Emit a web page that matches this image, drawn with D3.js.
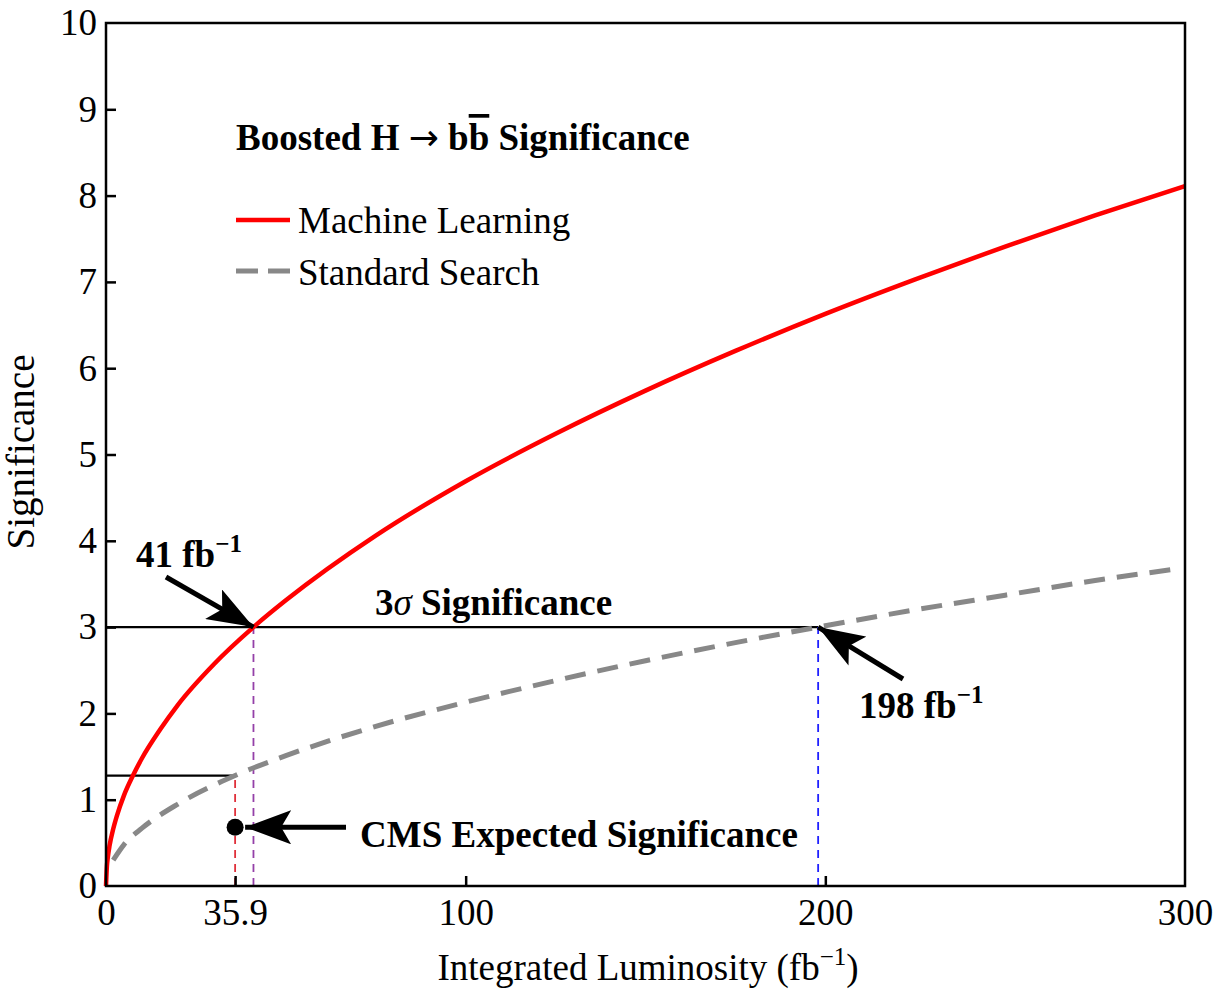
<!DOCTYPE html>
<html><head><meta charset="utf-8">
<script src="https://cdn.jsdelivr.net/npm/d3@7"></script>
<style>
body{margin:0;background:#fff;}
text{font-family:"Liberation Serif","Times New Roman",serif;fill:#000;}
</style></head>
<body>
<svg id="chart" width="1216" height="990"></svg>
<script>
// ---- data ----
const mlLumi   = [0, 0.25, 0.5, 1, 2, 3, 5, 7.5, 10, 15, 20, 30, 41, 50, 75, 100, 125, 150, 175, 200, 225, 250, 275, 300];
const mlSig    = [0, 0.23, 0.33, 0.47, 0.66, 0.81, 1.05, 1.28, 1.48, 1.81, 2.10, 2.57, 3.00, 3.31, 4.06, 4.69, 5.24, 5.74, 6.20, 6.63, 7.03, 7.41, 7.77, 8.11];
const stdLumi  = [2, 5, 10, 20, 35.9, 50, 75, 100, 125, 150, 175, 198, 225, 250, 275, 297];
const stdSig   = [0.30, 0.48, 0.67, 0.95, 1.28, 1.51, 1.85, 2.13, 2.38, 2.61, 2.82, 3.00, 3.20, 3.37, 3.54, 3.67];
const xTicks   = [0, 35.9, 100, 200, 300];
const yTicks   = [0,1,2,3,4,5,6,7,8,9,10];
const mlCross  = [41, 3.0];     // ML reaches 3 sigma
const stdCross = [198, 3.0];    // standard reaches 3 sigma
const cmsLumi  = 35.9;
const cmsStdSig = 1.28;         // standard search at 35.9 fb^-1
const cmsPoint = [35.9, 0.68];  // CMS expected significance

const svg = d3.select("#chart");
const L = 106, R = 1185, T = 23, B = 886;
const x = d3.scaleLinear().domain([0,300]).range([L,R]);
const y = d3.scaleLinear().domain([0,10]).range([B,T]);
const FS = 37, SUP = 25;

// defs: arrowhead
svg.append("defs").append("marker")
  .attr("id","ah").attr("viewBox","0 0 46 34").attr("refX",46).attr("refY",17)
  .attr("markerWidth",46).attr("markerHeight",34).attr("markerUnits","userSpaceOnUse")
  .attr("orient","auto")
  .append("path").attr("d","M0,0 L46,17 L0,34 L10,17 Z").attr("fill","#000");

// reference lines
svg.append("line").attr("x1",x(0)).attr("x2",x(stdCross[0])).attr("y1",y(3)).attr("y2",y(3))
  .attr("stroke","#000").attr("stroke-width",2.2);
svg.append("line").attr("x1",x(0)).attr("x2",x(cmsLumi)).attr("y1",y(cmsStdSig)).attr("y2",y(cmsStdSig))
  .attr("stroke","#000").attr("stroke-width",2.2);
svg.append("line").attr("x1",x(cmsLumi)).attr("x2",x(cmsLumi)).attr("y1",y(0)).attr("y2",y(cmsStdSig))
  .attr("stroke","#e0303a").attr("stroke-width",1.8).attr("stroke-dasharray","8,6");
svg.append("line").attr("x1",x(mlCross[0])).attr("x2",x(mlCross[0])).attr("y1",y(0)).attr("y2",y(mlCross[1]))
  .attr("stroke","#9440a8").attr("stroke-width",1.8).attr("stroke-dasharray","8,6");
svg.append("line").attr("x1",x(stdCross[0])).attr("x2",x(stdCross[0])).attr("y1",y(0)).attr("y2",y(stdCross[1]))
  .attr("stroke","#2020ff").attr("stroke-width",1.8).attr("stroke-dasharray","8,6");

// curves
const line = d3.line().x(d=>x(d[0])).y(d=>y(d[1])).curve(d3.curveMonotoneX);
svg.append("path").datum(stdLumi.map((v,i)=>[v,stdSig[i]])).attr("d",line)
  .attr("fill","none").attr("stroke","#888").attr("stroke-width",5).attr("stroke-dasharray","21,12");
svg.append("path").datum(mlLumi.map((v,i)=>[v,mlSig[i]])).attr("d",line)
  .attr("fill","none").attr("stroke","#ff0000").attr("stroke-width",4.5);

// CMS point
svg.append("circle").attr("cx",x(cmsPoint[0])).attr("cy",y(cmsPoint[1])).attr("r",8.5).attr("fill","#000");

// arrows
function arrow(x1,y1,x2,y2){
  svg.append("line").attr("x1",x1).attr("y1",y1).attr("x2",x2).attr("y2",y2)
    .attr("stroke","#000").attr("stroke-width",5).attr("marker-end","url(#ah)");
}
arrow(166,577,x(mlCross[0]),y(mlCross[1]));
arrow(903,679,x(stdCross[0]),y(stdCross[1]));
arrow(346,y(cmsPoint[1]),x(cmsPoint[0])+10,y(cmsPoint[1]));

// frame
svg.append("rect").attr("x",L).attr("y",T).attr("width",R-L).attr("height",B-T)
  .attr("fill","none").attr("stroke","#000").attr("stroke-width",2.5);

// axes with inward ticks
const ax = svg.append("g").attr("transform",`translate(0,${B})`)
  .call(d3.axisBottom(x).tickValues(xTicks).tickSizeInner(-10).tickSizeOuter(0).tickPadding(13)
    .tickFormat(d=>d===35.9?"35.9":d3.format("d")(d)));
const ay = svg.append("g").attr("transform",`translate(${L},0)`)
  .call(d3.axisLeft(y).tickValues(yTicks).tickSizeInner(-10).tickSizeOuter(0).tickPadding(9)
    .tickFormat(d3.format("d")));
[ax,ay].forEach(g=>{
  g.select(".domain").remove();
  g.selectAll(".tick line").attr("stroke","#000").attr("stroke-width",2.5);
  g.selectAll(".tick text").attr("font-size",FS).attr("font-family","Liberation Serif, serif").attr("fill","#000");
});
ax.selectAll(".tick").filter(d=>d===0 || d===300).select("line").remove();
ay.selectAll(".tick").filter(d=>d===0 || d===10).select("line").remove();

// axis titles
const xt = svg.append("text").attr("x",648).attr("y",980).attr("text-anchor","middle").attr("font-size",FS);
xt.append("tspan").text("Integrated Luminosity (fb");
xt.append("tspan").text("\u22121").attr("font-size",SUP).attr("dy",-15);
xt.append("tspan").text(")").attr("dy",15);
svg.append("text").attr("transform","translate(34,452) rotate(-90)").attr("text-anchor","middle")
  .attr("font-size",39).text("Significance");

// title & legend
const tt = svg.append("text").attr("x",236).attr("y",150).attr("font-size",FS).attr("font-weight","bold");
tt.append("tspan").text("Boosted H ");
tt.append("tspan").text("\u2192").attr("font-family","DejaVu Sans").attr("font-weight","normal").attr("font-size",36);
tt.append("tspan").text(" b");
tt.append("tspan").text("b").attr("text-decoration","overline");
tt.append("tspan").text(" Significance");
svg.append("line").attr("x1",236).attr("x2",290).attr("y1",220).attr("y2",220).attr("stroke","#ff0000").attr("stroke-width",4.5);
svg.append("text").attr("x",298).attr("y",233).attr("font-size",FS).text("Machine Learning");
svg.append("line").attr("x1",236).attr("x2",290).attr("y1",271).attr("y2",271).attr("stroke","#888").attr("stroke-width",5).attr("stroke-dasharray","22,10");
svg.append("text").attr("x",298).attr("y",285).attr("font-size",FS).text("Standard Search");

// annotations
function bold(txt,xx,yy,sup){
  const t = svg.append("text").attr("x",xx).attr("y",yy).attr("font-size",FS).attr("font-weight","bold");
  t.append("tspan").text(txt);
  if(sup){ t.append("tspan").text(sup).attr("font-size",SUP).attr("dy",-15); }
  return t;
}
bold("41 fb",136,567,"\u22121");
bold("198 fb",859,718,"\u22121");
const sg = svg.append("text").attr("x",375).attr("y",615).attr("font-size",FS).attr("font-weight","bold");
sg.append("tspan").text("3");
sg.append("tspan").text("\u03c3").attr("font-style","italic").attr("font-weight","normal");
sg.append("tspan").text(" Significance");
bold("CMS Expected Significance",360,847);
</script>
</body></html>
